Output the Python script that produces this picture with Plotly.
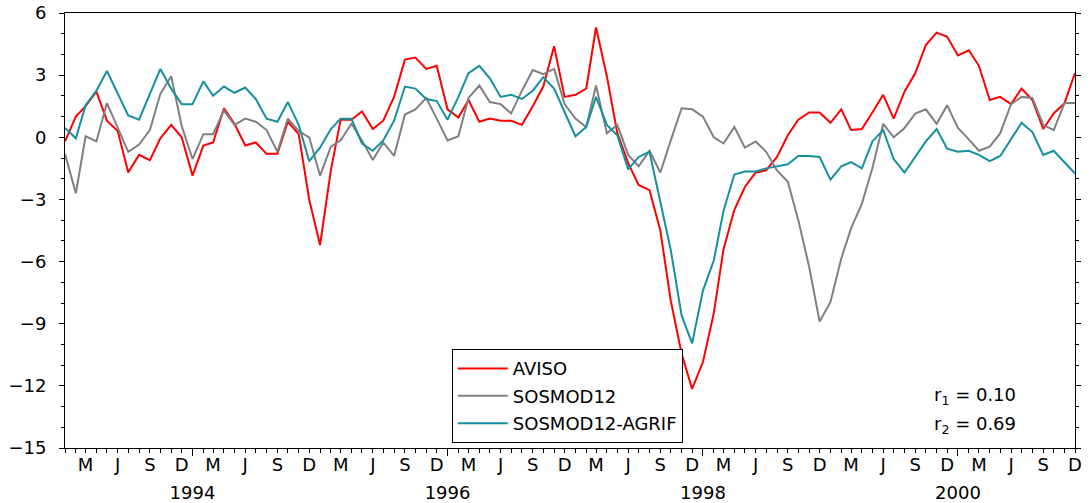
import pandas as pd
import plotly.graph_objects as go

months = pd.date_range("1993-01-01", periods=96, freq="MS")

aviso = [-0.2, 1.0, 1.5, 2.2, 0.8, 0.3, -1.7, -0.85, -1.1, -0.05, 0.6, 0.0,
         -1.85, -0.4, -0.25, 1.4, 0.65, -0.4, -0.25, -0.8, -0.8, 0.75, 0.15, -3.0,
         -5.2, -1.6, 0.85, 0.85, 1.25, 0.4, 0.8, 1.95, 3.75, 3.85, 3.3, 3.45,
         1.35, 0.95, 1.8, 0.75, 0.9, 0.8, 0.8, 0.6, 1.5, 2.45, 4.4, 1.95,
         2.05, 2.35, 5.3, 2.95, 0.2, -1.25, -2.3, -2.55, -4.5, -7.9, -10.45, -12.15,
         -10.85, -8.5, -5.4, -3.5, -2.4, -1.7, -1.6, -0.95, 0.1, 0.85, 1.2, 1.2,
         0.7, 1.35, 0.35, 0.4, 1.2, 2.05, 0.9, 2.2, 3.1, 4.45, 5.05, 4.85,
         3.95, 4.2, 3.45, 1.8, 1.95, 1.6, 2.35, 1.8, 0.4, 1.15, 1.65, 3.1]

sosmod12 = [-0.8, -2.7, 0.05, -0.2, 1.65, 0.5, -0.7, -0.35, 0.35, 2.1, 2.95, 0.55,
            -1.05, 0.15, 0.15, 1.3, 0.6, 0.9, 0.75, 0.35, -0.7, 0.9, 0.3, 0.0,
            -1.85, -0.45, -0.15, 0.65, -0.15, -1.1, -0.25, -0.9, 1.1, 1.35, 1.9, 0.9,
            -0.15, 0.05, 1.9, 2.5, 1.7, 1.6, 1.15, 2.25, 3.25, 3.05, 3.3, 1.6,
            0.9, 0.5, 2.5, 0.2, 0.6, -0.85, -1.4, -0.65, -1.7, -0.15, 1.4, 1.35,
            1.0, 0.0, -0.3, 0.5, -0.5, -0.2, -0.7, -1.6, -2.15, -4.0, -6.25, -8.9,
            -7.95, -5.85, -4.4, -3.2, -1.5, 0.65, 0.0, 0.45, 1.15, 1.35, 0.65, 1.55,
            0.45, -0.1, -0.65, -0.45, 0.2, 1.6, 1.95, 1.9, 0.6, 0.35, 1.65, 1.65]

agrif = [0.45, -0.05, 1.55, 2.25, 3.2, 2.1, 1.05, 0.85, 2.1, 3.3, 2.35, 1.6,
         1.6, 2.7, 2.0, 2.45, 2.15, 2.4, 1.85, 0.9, 0.75, 1.7, 0.6, -1.15,
         -0.5, 0.4, 0.9, 0.9, -0.3, -0.65, -0.15, 0.8, 2.45, 2.35, 1.85, 1.75,
         0.85, 1.95, 3.1, 3.45, 2.85, 1.95, 2.05, 1.85, 2.25, 2.9, 2.35, 1.25,
         0.05, 0.5, 1.95, 0.6, 0.1, -1.55, -0.95, -0.7, -3.05, -5.45, -8.6, -9.95,
         -7.4, -5.95, -3.55, -1.8, -1.65, -1.65, -1.5, -1.4, -1.3, -0.9, -0.9, -0.95,
         -2.05, -1.4, -1.2, -1.5, -0.2, 0.35, -1.05, -1.7, -0.95, -0.2, 0.4, -0.55,
         -0.7, -0.65, -0.85, -1.15, -0.9, -0.1, 0.7, 0.25, -0.85, -0.65, -1.2, -1.75]

series_names = ["AVISO", "SOSMOD12", "SOSMOD12-AGRIF"]
series_colors = ["#ff0000", "#808080", "#15909f"]
series_axes = ["x", "x", "x2"]

season_ticks = [d for d in months if d.month in (3, 6, 9, 12)]
season_text = [{3: "M", 6: "J", 9: "S", 12: "D"}[d.month] for d in season_ticks]
year_ticks = [pd.Timestamp(f"{y}-01-01") for y in (1994, 1996, 1998, 2000)]
year_text = ["1994", "1996", "1998", "2000"]

y_ticks = [-15, -12, -9, -6, -3, 0, 3, 6]
corr_lines = ["r<sub>1</sub> = 0.10", "r<sub>2</sub> = 0.69"]

FONT = "DejaVu Sans"
fig = go.Figure()
for name, vals, col, ax in zip(series_names, [aviso, sosmod12, agrif],
                               series_colors, series_axes):
    fig.add_trace(go.Scatter(x=months, y=vals, mode="lines", name=name,
                             xaxis=ax, yaxis="y",
                             line=dict(color=col, width=2), legendgroup=name))

xr = [months[0], months[-1]]
fig.update_layout(
    width=1090, height=503,
    margin=dict(l=65, r=15, t=13, b=55, autoexpand=False),
    paper_bgcolor="white", plot_bgcolor="white",
    font=dict(family=FONT, size=18, color="black"),
    showlegend=True,
    legend=dict(x=0.383, y=0.011, xanchor="left", yanchor="bottom",
                bgcolor="white", bordercolor="black", borderwidth=1,
                font=dict(size=18), tracegroupgap=1, traceorder="grouped",
                itemwidth=50),
    xaxis=dict(type="date", range=xr, showgrid=False, zeroline=False,
               automargin=False,
               showline=True, linecolor="black", linewidth=1, mirror=True,
               tickmode="array", tickvals=season_ticks, ticktext=season_text,
               ticks="outside", ticklen=4, tickcolor="black",
               ticklabelstandoff=-4,
               minor=dict(dtick="M1", tick0="1993-01-01", ticks="outside",
                          ticklen=4, tickcolor="black"),
               tickfont=dict(size=18)),
    xaxis2=dict(type="date", range=xr, matches="x", overlaying="x", anchor="y",
                side="bottom", automargin=False,
                showgrid=False, zeroline=False, showline=False,
                tickmode="array", tickvals=year_ticks, ticktext=year_text,
                ticks="outside", ticklen=7, tickcolor="black",
                ticklabelstandoff=21, tickfont=dict(size=18)),
    yaxis=dict(range=[-15, 6], showgrid=False, zeroline=False, automargin=False,
               showline=True, linecolor="black", linewidth=1, mirror="ticks",
               tickmode="array", tickvals=y_ticks, ticks="outside",
               ticklen=5, tickcolor="black", ticklabelstandoff=9,
               minor=dict(dtick=1, tick0=0, ticks="outside", ticklen=3,
                          tickcolor="black"),
               tickfont=dict(size=18)),
)
for i, t in enumerate(corr_lines):
    fig.add_annotation(x=0.858, y=[0.119, 0.054][i], xref="paper", yref="paper",
                       xanchor="left", yanchor="middle", text=t, showarrow=False,
                       font=dict(family=FONT, size=18))
fig.write_html("out.html", config={"displayModeBar": False},
               post_script="document.body.style.margin='0';")
